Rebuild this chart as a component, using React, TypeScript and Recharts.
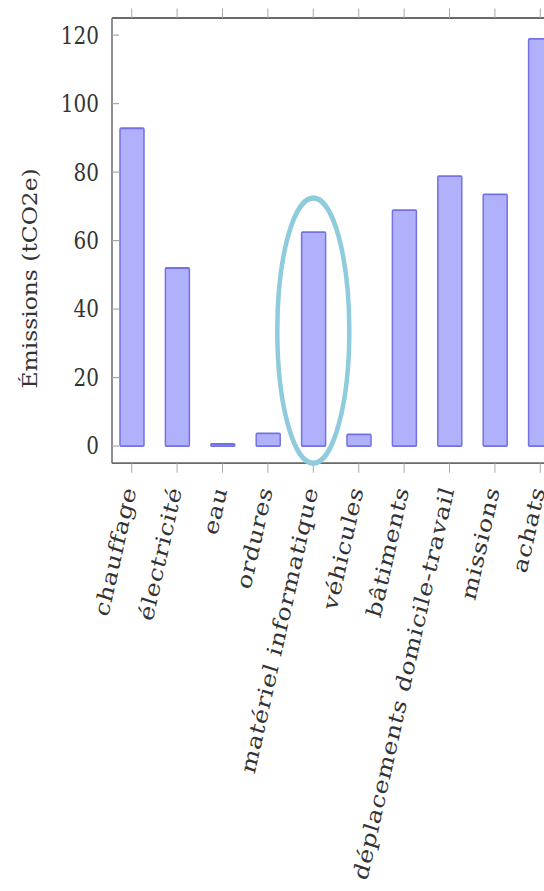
import React from "react";
import { BarChart, Bar, XAxis, YAxis, ReferenceDot } from "recharts";

const categories = [
  "chauffage",
  "électricité",
  "eau",
  "ordures",
  "matériel informatique",
  "véhicules",
  "bâtiments",
  "déplacements domicile-travail",
  "missions",
  "achats",
];
const emissions = [92.8, 52.0, 0.6, 3.7, 62.5, 3.4, 68.9, 78.8, 73.5, 118.9];
const yTicks = [0, 20, 40, 60, 80, 100, 120];
const yLabel = "Émissions (tCO2e)";
const highlighted = "matériel informatique";
const highlightCenter = 33.7;

const data = categories.map((name, i) => ({ name, value: emissions[i] }));

const FONT = "DejaVu Serif";
const TEXT = "#333333";
const FRAME = "#6a6a6a";
const TICK = "#a8a8a8";

const XTick = (props: any) => {
  const { x, y, payload } = props;
  const x0 = x + 5;
  const y0 = y + 12;
  return (
    <text
      x={x0}
      y={y0}
      transform={`rotate(-75, ${x0}, ${y0})`}
      textAnchor="end"
      fontFamily={FONT}
      fontSize={21}
      letterSpacing={0.6}
      fill={TEXT}
    >
      {payload.value}
    </text>
  );
};

const YTick = (props: any) => {
  const { x, y, payload } = props;
  return (
    <text x={x} y={y} dy={7} textAnchor="end" fontFamily={FONT} fontSize={20} fill={TEXT}>
      {payload.value}
    </text>
  );
};

const NoTick = () => <g />;

const Ellipse = (props: any) => (
  <ellipse
    cx={props.cx}
    cy={props.cy}
    rx={36}
    ry={110.5}
    fill="none"
    stroke="#8ecbdc"
    strokeWidth={4.5}
  />
);

export default function App() {
  return (
    <div
      style={{
        position: "absolute",
        left: 0,
        top: 0,
        width: 544,
        height: 891,
        overflow: "hidden",
        background: "#fff",
      }}
    >
      <div style={{ transform: "scaleY(1.2)", transformOrigin: "0 0", width: 563, height: 743 }}>
        <BarChart
          width={563}
          height={743}
          data={data}
          margin={{ top: 14, right: 0, left: 0, bottom: 0 }}
        >
          <XAxis
            xAxisId="top"
            orientation="top"
            dataKey="name"
            height={1}
            padding={{ left: -3, right: 0 }}
            axisLine={{ stroke: FRAME, strokeWidth: 1.5 }}
            tickLine={{ stroke: TICK }}
            tickSize={8}
            tick={<NoTick />}
            interval={0}
          />
          <XAxis
            dataKey="name"
            height={357}
            padding={{ left: -3, right: 0 }}
            axisLine={{ stroke: FRAME, strokeWidth: 1.5 }}
            tickLine={{ stroke: TICK }}
            tickSize={8}
            tick={<XTick />}
            interval={0}
          />
          <YAxis
            width={112}
            domain={[-5, 125]}
            ticks={yTicks}
            axisLine={{ stroke: FRAME, strokeWidth: 1.5 }}
            tickLine={{ stroke: TICK }}
            tickSize={-7}
            tickMargin={20}
            tick={<YTick />}
            label={{
              content: () => (
                <text
                  x={30}
                  y={232}
                  transform="rotate(-90, 30, 232)"
                  textAnchor="middle"
                  dominantBaseline="central"
                  fontFamily={FONT}
                  fontSize={19.5}
                  fill={TEXT}
                >
                  {yLabel}
                </text>
              ),
            }}
          />
          <Bar
            dataKey="value"
            barSize={24}
            fill="#b1b1fb"
            stroke="#7272e4"
            strokeWidth={1.5}
            radius={1}
            isAnimationActive={false}
          />
          <ReferenceDot
            x={highlighted}
            y={highlightCenter}
            ifOverflow="visible"
            shape={<Ellipse />}
          />
        </BarChart>
      </div>
    </div>
  );
}
